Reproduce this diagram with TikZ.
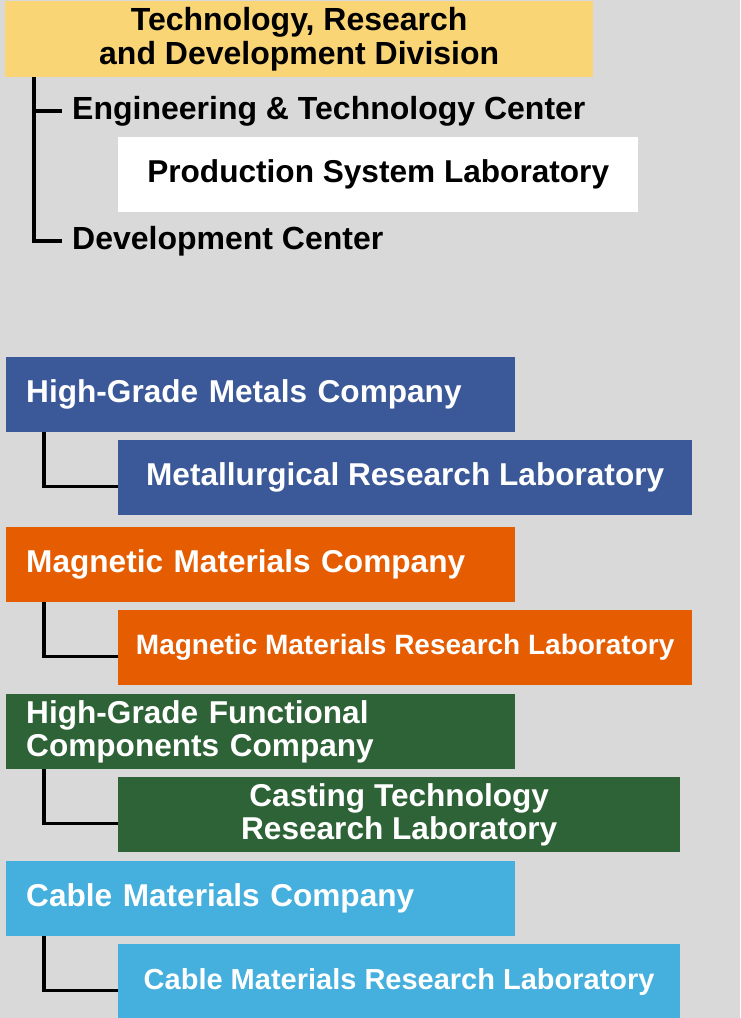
\documentclass[tikz,border=0pt]{standalone}
\usepackage{fontspec}
\setmainfont{Liberation Sans}
\usetikzlibrary{positioning}

\definecolor{bggray}{HTML}{D9D9D9}
\definecolor{divyellow}{HTML}{F9D576}
\definecolor{metalblue}{HTML}{3B5998}
\definecolor{magorange}{HTML}{E65C00}
\definecolor{funcgreen}{HTML}{2E6237}
\definecolor{cablecyan}{HTML}{45AFDD}

\newcommand{\boxfont}[1]{\bfseries\fontsize{#1}{33}\selectfont}

\begin{document}
\begin{tikzpicture}[x=1pt, y=-1pt,
    company/.style={anchor=north west, inner xsep=20pt, inner ysep=0pt,
        text width=469pt, minimum height=75pt, align=left, text=white,
        font=\boxfont{31.6}},
    lab/.style={anchor=north west, inner sep=0pt, minimum height=75pt,
        align=center, text=white, font=\boxfont{31.6}},
    center/.style={anchor=west, inner xsep=10pt, inner ysep=0pt,
        font=\boxfont{32}},
    branch/.style={line width=3.5pt}]
    \fill[bggray] (0,0) rectangle (740,1018);
    \useasboundingbox (0,0) rectangle (740,1018);

    % division and its centers
    \node[lab, fill=divyellow, text=black, minimum width=588pt,
        minimum height=76pt, font=\bfseries\fontsize{32}{34}\selectfont]
        (trd) at (5,1) {Technology, Research\\and Development Division};
    \node[center] (etc) at (62,111) {Engineering \& Technology Center};
    \node[lab, fill=white, text=black, minimum width=520pt]
        (psl) at (118,137) {Production System Laboratory};
    \node[center] (dev) at (62,241) {Development Center};
    \draw[line width=4pt] ([xshift=29pt]trd.south west) |- (dev.west);
    \draw[line width=4pt] ([xshift=29pt]trd.south west) |- (etc.west);

    % companies and their laboratories
    \node[company, fill=metalblue] (hgm) at (6,357) {High-Grade Metals Company};
    \node[lab, fill=metalblue, minimum width=574pt]
        (mrl) at (118,440) {Metallurgical Research Laboratory};
    \node[company, fill=magorange] (mmc) at (6,527) {Magnetic Materials Company};
    \node[lab, fill=magorange, minimum width=574pt, font=\boxfont{28}]
        (mmrl) at (118,610) {Magnetic Materials Research Laboratory};
    \node[company, fill=funcgreen] (hfc) at (6,694)
        {High-Grade Functional\\Components Company};
    \node[lab, fill=funcgreen, minimum width=562pt]
        (ctrl) at (118,777) {Casting Technology\\Research Laboratory};
    \node[company, fill=cablecyan] (cmc) at (6,861) {Cable Materials Company};
    \node[lab, fill=cablecyan, minimum width=562pt, font=\boxfont{29}]
        (cmrl) at (118,944) {Cable Materials Research Laboratory};

    \foreach \co/\lb in {hgm/mrl, mmc/mmrl, hfc/ctrl, cmc/cmrl}
        \draw[branch] ([xshift=38pt]\co.south west) |- ([yshift=-9pt]\lb.west);
\end{tikzpicture}
\end{document}
